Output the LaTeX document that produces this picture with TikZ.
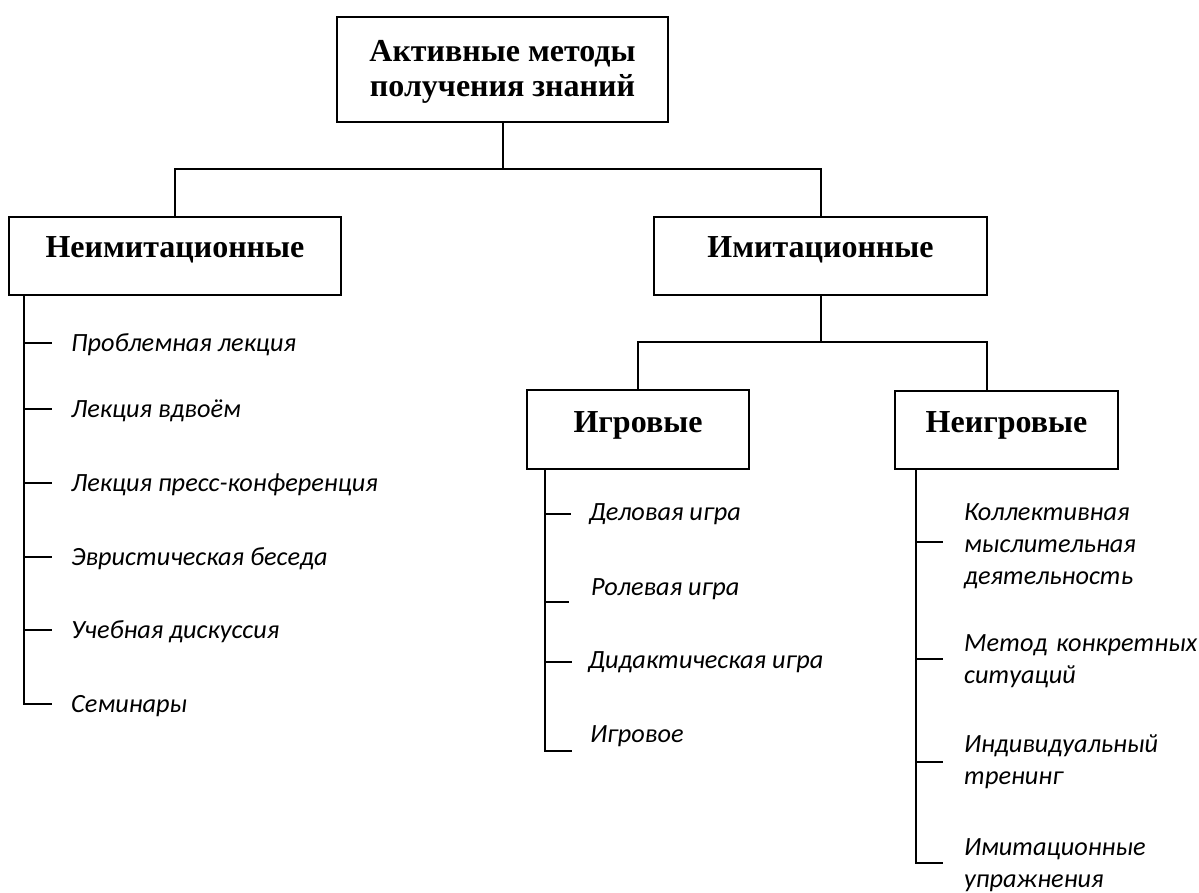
\documentclass[tikz,border=0pt]{standalone}
\usepackage{fontspec}
\setmainfont{Liberation Serif}
\newfontfamily\itemfont{Carlito}
\begin{document}
\begin{tikzpicture}[x=1pt,y=-1pt,
  box/.style={draw, rectangle, inner sep=0pt, line width=2pt},
  head/.style={font=\fontsize{32}{35}\selectfont\bfseries, inner sep=0pt, anchor=base},
  toptext/.style={font=\fontsize{32}{35}\selectfont\bfseries, inner sep=0pt, align=center},
  item/.style={font=\itemfont\fontsize{26.3}{32}\selectfont\itshape, inner sep=0pt, anchor=base west},
  mitem/.style={item, text width=240pt, align=left},
  conn/.style={line width=2pt}]
\useasboundingbox (0,0) rectangle (1199,892);

% boxes
\node[box, minimum width=331pt, minimum height=105pt] (top) at (502.5,69.5) {};
\node[toptext] (toptxt) at ([yshift=-2pt]top.center) {Активные методы\\получения знаний};
\node[box, minimum width=332pt, minimum height=78pt] (neim) at (175,256) {};
\node[head] (neimtxt) at (175,257.5) {Неимитационные};
\node[box, minimum width=333pt, minimum height=78pt] (imit) at (820.5,256) {};
\node[head] (imittxt) at (820.5,257.5) {Имитационные};
\node[box, minimum width=222pt, minimum height=79pt] (igr) at (638,429.5) {};
\node[head] (igrtxt) at (638,432) {Игровые};
\node[box, minimum width=223pt, minimum height=78pt] (neigr) at (1006.5,430) {};
\node[head] (neigrtxt) at (1006.5,432.5) {Неигровые};

% tree connectors
\coordinate (j1) at (502.5,169);
\coordinate (j2) at (820.5,342);
\draw[conn] (top.south) -- (j1);
\draw[conn] (neim.north) |- (j1) -| (imit.north);
\draw[conn] (imit.south) -- (j2);
\draw[conn] (igr.north) |- (j2) -| ([xshift=-19.5pt]neigr.north);

% left list
\node[item] (a1) at (71,351) {Проблемная лекция};
\node[item] (a2) at (71,417) {Лекция вдвоём};
\node[item] (a3) at (71,491) {Лекция пресс-конференция};
\node[item] (a4) at (71,565) {Эвристическая беседа};
\node[item] (a5) at (71,638) {Учебная дискуссия};
\node[item] (a6) at (71,712) {Семинары};
\coordinate (aend) at (52,704);
\draw[conn] ([xshift=16pt]neim.south west) |- (aend);
\foreach \y in {343,409,483,557,630} \draw[conn] (25,\y) -- (52,\y);

% middle list
\node[item] (b1) at (589,520) {Деловая игра};
\node[item] (b2) at (591,595) {Ролевая игра};
\node[item] (b3) at (588,668) {Дидактическая игра};
\node[item] (b4) at (590,742) {Игровое};
\coordinate (bend) at (572,751);
\draw[conn] ([xshift=19pt]igr.south west) |- (bend);
\draw[conn] (546,514) -- (571,514);
\draw[conn] (546,602) -- (569,602);
\draw[conn] (546,662) -- (572,662);

% right list
\node[mitem] (c1) at (964,520) {Коллективная\\мыслительная\\деятельность};
\node[mitem] (c2) at (964,651) {Метод конкретных\\ситуаций};
\node[mitem] (c3) at (964,752) {Индивидуальный\\тренинг};
\node[mitem] (c4) at (964,855) {Имитационные\\упражнения};
\coordinate (cend) at (943,863);
\draw[conn] ([xshift=22pt]neigr.south west) |- (cend);
\foreach \y in {542,659,762} \draw[conn] (917,\y) -- (943,\y);
\end{tikzpicture}
\end{document}
